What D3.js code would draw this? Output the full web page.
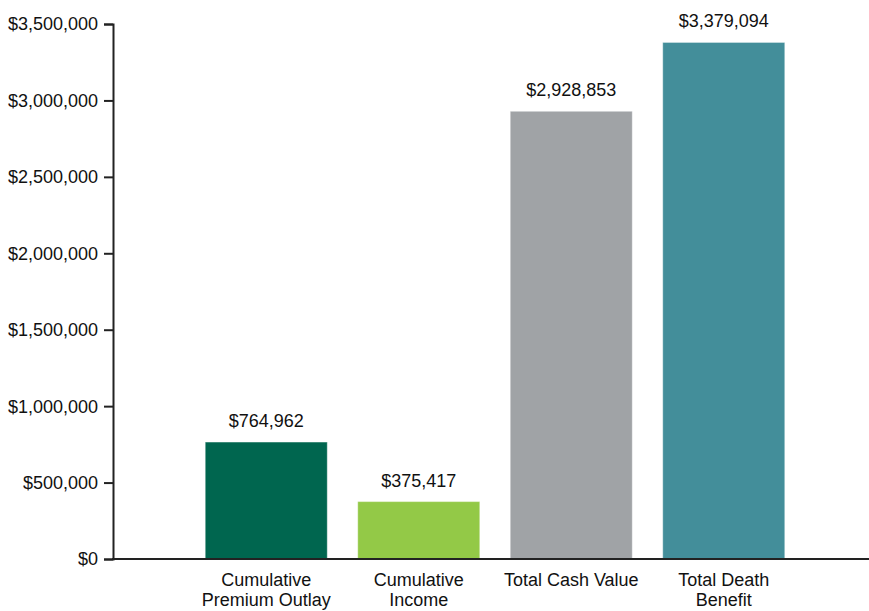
<!DOCTYPE html>
<html>
<head>
<meta charset="utf-8">
<script src="https://cdn.jsdelivr.net/npm/d3@7"></script>
<style>
    body { margin: 0; background: #fff; }
    svg { display: block; font-family: "Liberation Sans", Arial, sans-serif; }
    .axis text { font-size: 18px; fill: #111; }
    .axis path, .axis line { stroke: #222; stroke-width: 2px; }
</style>
</head>
<body>
<svg width="869" height="611"></svg>
<script>
const categories = ['Cumulative Premium Outlay', 'Cumulative Income', 'Total Cash Value', 'Total Death Benefit'];
const values = [764962, 375417, 2928853, 3379094];
const colors = ['#00664f', '#93c947', '#a0a3a6', '#438e9a'];
const yTicks = [0, 500000, 1000000, 1500000, 2000000, 2500000, 3000000, 3500000];

const data = categories.map((c, i) => ({ cat: c, value: values[i], color: colors[i] }));

const svg = d3.select('svg');
const width = +svg.attr('width');
const margens = { left: 113, top: 24, bottom: 52 };
const innerBottom = +svg.attr('height') - margens.bottom;

const mapY = d3.scaleLinear().domain([0, 3500000]).range([innerBottom, margens.top]);
const xBand = d3.scaleBand()
    .domain(categories)
    .range([190, 800])
    .paddingInner(0.2)
    .paddingOuter(0.1);

const money = d3.format('$,.0f');

//---- eixo Y
svg.append('g')
    .attr('class', 'y axis')
    .attr('transform', `translate(${margens.left}, 0)`)
    .call(d3.axisLeft(mapY).tickValues(yTicks).tickFormat(money).tickSize(9).tickPadding(6))
    .call(g => g.selectAll('text').attr('dy', '0.33em'));

//---- barras
svg.append('g')
    .attr('class', 'bars')
    .selectAll('rect')
    .data(data)
    .join('rect')
    .attr('x', d => xBand(d.cat))
    .attr('y', d => mapY(d.value))
    .attr('width', xBand.bandwidth())
    .attr('height', d => mapY(0) - mapY(d.value))
    .attr('fill', d => d.color)
    .attr('stroke', 'rgba(255,255,255,0.35)')
    .attr('stroke-width', 1);

svg.append('g')
    .attr('class', 'labels')
    .selectAll('text')
    .data(data)
    .join('text')
    .attr('x', d => xBand(d.cat) + xBand.bandwidth() / 2)
    .attr('y', d => mapY(d.value) - 15)
    .attr('text-anchor', 'middle')
    .style('font-size', '18px')
    .attr('fill', '#111')
    .text(d => money(d.value));

//---- eixo X
const xAxis = svg.append('g')
    .attr('class', 'x axis')
    .attr('transform', `translate(0, ${innerBottom})`)
    .call(d3.axisBottom(xBand).tickSize(0).tickPadding(0));
xAxis.select('.domain').remove();
xAxis.append('line')
    .attr('x1', margens.left - 1)
    .attr('x2', width)
    .attr('stroke', '#222');

xAxis.selectAll('.tick text').each(function () {
    const text = d3.select(this);
    const words = text.text().split(' ');
    text.text(null).attr('y', 0).attr('dy', null);
    let line = [];
    let lineNo = 0;
    let tspan = text.append('tspan').attr('x', 0).attr('y', 27);
    words.forEach(w => {
        line.push(w);
        tspan.text(line.join(' '));
        if (tspan.node().getComputedTextLength() > xBand.step() - 4 && line.length > 1) {
            line.pop();
            tspan.text(line.join(' '));
            line = [w];
            lineNo++;
            tspan = text.append('tspan').attr('x', 0).attr('y', 27 + lineNo * 20).text(w);
        }
    });
});
</script>
</body>
</html>
